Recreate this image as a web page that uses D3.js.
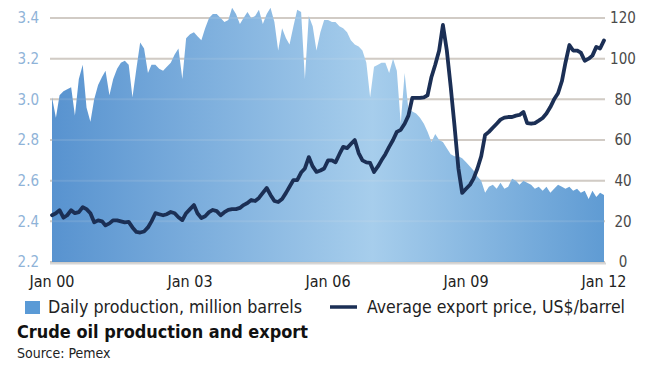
<!DOCTYPE html>
<html>
<head>
<meta charset="utf-8">
<script src="https://cdn.jsdelivr.net/npm/d3@7"></script>
<style>
  body { margin: 0; background: #fff; }
  svg { display: block; font-family: "DejaVu Sans Condensed", "DejaVu Sans", sans-serif; }
</style>
</head>
<body>
<svg id="chart" width="653" height="365"></svg>
<script>
// monthly values Jan 2000 .. Jan 2012
const startMonth = new Date(2000, 0, 1);

// Daily production, million barrels (one row per year)
const production = [
  3.01, 2.91, 3.02, 3.04, 3.05, 3.06, 2.92, 3.10, 3.17, 2.96, 2.89, 3.00,
  3.07, 3.11, 3.14, 3.02, 3.10, 3.15, 3.18, 3.19, 3.17, 3.01, 3.15, 3.28,
  3.25, 3.13, 3.17, 3.17, 3.15, 3.14, 3.16, 3.18, 3.22, 3.25, 3.10, 3.30,
  3.32, 3.33, 3.31, 3.29, 3.35, 3.40, 3.42, 3.42, 3.40, 3.38, 3.39, 3.45,
  3.42, 3.37, 3.40, 3.43, 3.40, 3.41, 3.44, 3.37, 3.42, 3.45, 3.38, 3.24,
  3.35, 3.30, 3.27, 3.36, 3.44, 3.43, 3.10, 3.41, 3.36, 3.24, 3.33, 3.39,
  3.39, 3.38, 3.38, 3.36, 3.35, 3.33, 3.29, 3.27, 3.26, 3.24, 3.18, 3.01,
  3.16, 3.17, 3.18, 3.18, 3.13, 3.20, 3.14, 2.88, 3.13, 2.95, 2.94, 2.93,
  2.91, 2.88, 2.84, 2.79, 2.83, 2.80, 2.79, 2.76, 2.73, 2.72, 2.72, 2.71,
  2.69, 2.67, 2.65, 2.62, 2.60, 2.54, 2.57, 2.58, 2.56, 2.59, 2.56, 2.57,
  2.61, 2.60, 2.58, 2.60, 2.59, 2.58, 2.56, 2.57, 2.55, 2.57, 2.54, 2.56,
  2.58, 2.57, 2.56, 2.57, 2.55, 2.56, 2.54, 2.55, 2.51, 2.55, 2.52, 2.54,
  2.53
];

// Average export price, US$/barrel
const price = [
  23, 24, 25.5, 21.8, 23, 25.5, 24, 24.5, 27, 26, 24, 19.5,
  20.5, 20, 18, 19, 20.5, 20.5, 20, 19.5, 19.7, 17, 14.8, 14.5,
  15, 17, 20, 24, 23.5, 23, 23.5, 24.6, 24, 22, 20.6, 24,
  26, 28, 24, 21.6, 22.5, 24.5, 25.6, 25, 23, 24.5, 25.6, 26,
  26, 26.6, 28, 29, 30.5, 30, 31.5, 34, 36.4, 33, 30, 29.5,
  31, 34, 37, 40.3, 40.3, 44, 46, 51.6, 47, 44.3, 45, 46,
  50, 50, 49, 53, 56.6, 56, 58, 60, 53.6, 50, 49, 48.7,
  44.3, 47, 50, 53, 56.6, 60, 64, 65, 68, 72, 80.7, 80.7,
  80.7, 81, 82, 91, 97, 104, 116.6, 104, 86, 67, 46, 34,
  36, 38, 41, 46, 52, 62.5, 64, 66, 68, 70, 71, 71.3,
  71.3, 72, 72.3, 73.8, 68.3, 68, 68.3, 69.5, 70.8, 73, 76.2, 80,
  83, 89, 98, 106.7, 104, 104, 103, 99, 100, 101.5, 105.8, 105,
  109
];

const prodTicks = [2.2, 2.4, 2.6, 2.8, 3.0, 3.2, 3.4];
const priceTicks = [0, 20, 40, 60, 80, 100, 120];
const xTickLabels = ["Jan 00", "Jan 03", "Jan 06", "Jan 09", "Jan 12"];
const xTickDates = [new Date(2000, 0, 1), new Date(2003, 0, 1), new Date(2006, 0, 1), new Date(2009, 0, 1), new Date(2012, 0, 1)];

const dates = production.map((_, i) => d3.timeMonth.offset(startMonth, i));

const svg = d3.select("#chart");
const plotLeft = 52, plotRight = 604, plotTop = 18, plotBottom = 262;

const x = d3.scaleTime().domain([startMonth, new Date(2012, 0, 1)]).range([plotLeft, plotRight]);
const yProd = d3.scaleLinear().domain([2.2, 3.4]).range([plotBottom, plotTop]);
const yPrice = d3.scaleLinear().domain([0, 120]).range([plotBottom, plotTop]);

// gradient for the production area
const defs = svg.append("defs");
const grad = defs.append("linearGradient").attr("id", "areaGrad")
    .attr("x1", "0%").attr("x2", "100%").attr("y1", "0%").attr("y2", "0%");
grad.append("stop").attr("offset", "0%").attr("stop-color", "#4f8dcd");
grad.append("stop").attr("offset", "58%").attr("stop-color", "#a2cbeb");
grad.append("stop").attr("offset", "100%").attr("stop-color", "#5796d1");

// gridlines
svg.append("g")
    .selectAll("line")
    .data(prodTicks)
    .join("line")
    .attr("x1", 50).attr("x2", 605)
    .attr("y1", d => yProd(d)).attr("y2", d => yProd(d))
    .attr("stroke", "#cbc4bd")
    .attr("stroke-width", 2);

// production area
const area = d3.area()
    .x((d, i) => x(dates[i]))
    .y0(yProd(2.2))
    .y1(d => yProd(d));

svg.append("path")
    .datum(production)
    .attr("d", area)
    .attr("fill", "url(#areaGrad)")
    .attr("opacity", 0.95);

// faint gridlines over the area
svg.append("g")
    .selectAll("line")
    .data(prodTicks.slice(1))
    .join("line")
    .attr("x1", 50).attr("x2", 605)
    .attr("y1", d => yProd(d)).attr("y2", d => yProd(d))
    .attr("stroke", "#ffffff")
    .attr("stroke-opacity", 0.12)
    .attr("stroke-width", 2);

// baseline
svg.append("line")
    .attr("x1", 50).attr("x2", 606)
    .attr("y1", plotBottom + 1.5).attr("y2", plotBottom + 1.5)
    .attr("stroke", "#d6d6d6")
    .attr("stroke-width", 2);

// price line
const line = d3.line()
    .x((d, i) => x(dates[i]))
    .y(d => yPrice(d));

svg.append("path")
    .datum(price)
    .attr("d", line)
    .attr("fill", "none")
    .attr("stroke", "#1b2f55")
    .attr("stroke-width", 3.8)
    .attr("stroke-linejoin", "round")
    .attr("stroke-linecap", "round");

// left axis labels
svg.append("g")
    .selectAll("text")
    .data(prodTicks)
    .join("text")
    .attr("x", 39)
    .attr("y", d => yProd(d))
    .attr("dy", "0.36em")
    .attr("text-anchor", "end")
    .attr("fill", "#8fb3d8")
    .attr("font-size", 15)
    .text(d => d.toFixed(1));

// right axis labels
svg.append("g")
    .selectAll("text")
    .data(priceTicks)
    .join("text")
    .attr("x", 623)
    .attr("y", d => yPrice(d))
    .attr("dy", "0.36em")
    .attr("text-anchor", "middle")
    .attr("fill", "#4a4a4a")
    .attr("font-size", 15)
    .text(d => d);

// x axis labels
svg.append("g")
    .selectAll("text")
    .data(xTickDates)
    .join("text")
    .attr("x", d => x(d))
    .attr("y", 287)
    .attr("text-anchor", "middle")
    .attr("fill", "#222")
    .attr("font-size", 16)
    .text((d, i) => xTickLabels[i]);

// legend
svg.append("rect")
    .attr("x", 25).attr("y", 301).attr("width", 15).attr("height", 13)
    .attr("fill", "#5a9ad6");
svg.append("text")
    .attr("x", 48).attr("y", 313)
    .attr("fill", "#222").attr("font-size", 18)
    .attr("textLength", 254).attr("lengthAdjust", "spacingAndGlyphs")
    .text("Daily production, million barrels");
svg.append("line")
    .attr("x1", 330).attr("x2", 357).attr("y1", 307).attr("y2", 307)
    .attr("stroke", "#1b2f55").attr("stroke-width", 3.5);
svg.append("text")
    .attr("x", 367).attr("y", 313)
    .attr("fill", "#222").attr("font-size", 18)
    .attr("textLength", 258).attr("lengthAdjust", "spacingAndGlyphs")
    .text("Average export price, US$/barrel");

// title and source
svg.append("text")
    .attr("x", 17).attr("y", 338)
    .attr("fill", "#111").attr("font-size", 18.5).attr("font-weight", "bold")
    .attr("textLength", 291).attr("lengthAdjust", "spacingAndGlyphs")
    .text("Crude oil production and export");
svg.append("text")
    .attr("x", 17).attr("y", 358)
    .attr("fill", "#222").attr("font-size", 14)
    .text("Source: Pemex");
</script>
</body>
</html>
